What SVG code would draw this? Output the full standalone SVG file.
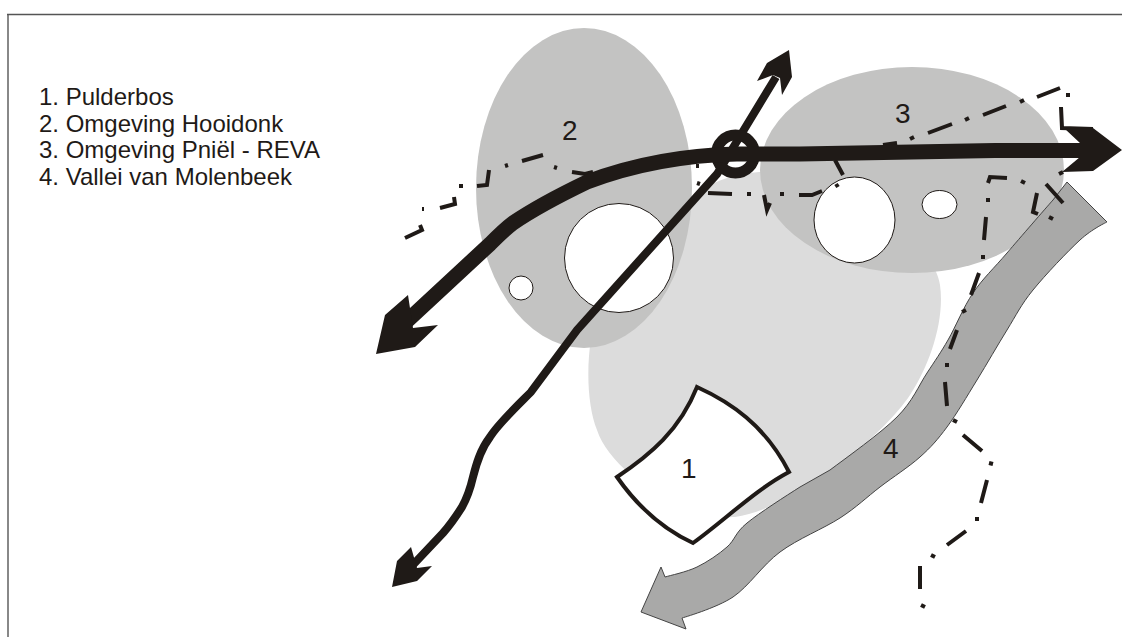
<svg xmlns="http://www.w3.org/2000/svg" width="1122" height="637" viewBox="0 0 1122 637">
<style>
.lbl{font-family:"Liberation Sans",Arial,sans-serif;fill:#1f1a17}
.list{font-size:24px}
.num{font-size:28px}
.hole{fill:#fff;stroke:#1f1a17;stroke-width:1}
.zone{fill:#c3c3c2}
.dash{fill:none;stroke:#1f1a17;stroke-width:4}
.ink{fill:#1f1a17}
.road{fill:none;stroke:#1f1a17}
</style>
<rect width="1122" height="637" fill="#fff"/>
<path d="M8 637V14" fill="none" stroke="#888" stroke-width="2"/>
<path d="M7 14.500H1122" fill="none" stroke="#555" stroke-width="1.500"/>
<g id="legend">
<text class="lbl list" x="39" y="105">1. Pulderbos</text>
<text class="lbl list" x="39" y="132">2. Omgeving Hooidonk</text>
<text class="lbl list" x="39" y="158">3. Omgeving Pniël - REVA</text>
<text class="lbl list" x="39" y="185">4. Vallei van Molenbeek</text>
</g>
<g id="area-base">
<path d="M600 300C585 345 585 400 597 430C610 470 680 520 735 517C790 510 880 440 910 395C930 365 945 320 940 285C935 250 880 200 800 175C770 168 720 170 690 200L620 290Z" fill="#dcdcdc"/>
</g>
<g id="node-2">
<ellipse class="zone" cx="584" cy="188" rx="108" ry="160"/>
<circle class="hole" cx="619" cy="258" r="54.500"/>
<circle class="hole" cx="521" cy="288" r="12"/>
<text class="lbl num" x="562" y="140">2</text>
</g>
<g id="node-3">
<ellipse class="zone" cx="912" cy="170" rx="152" ry="103"/>
<ellipse class="hole" cx="854.500" cy="220" rx="40.500" ry="43"/>
<ellipse class="hole" cx="939.500" cy="204.500" rx="17.500" ry="14"/>
<text class="lbl num" x="895" y="123">3</text>
</g>
<g id="node-4">
<path d="M1067 182L1107 222C1107 222 1092.300 228.700 1080 240C1067.700 251.300 1045.200 275 1033 290C1020.800 305 1016.300 315 1007 330C997.700 345 987 363.800 977 380C967 396.200 956.500 414.200 947 427C937.500 439.800 931.200 447 920 457C908.800 467 893.300 476.800 880 487C866.700 497.200 856.700 507.200 840 518C823.300 528.800 797.800 538.800 780 552C762.200 565.200 749.300 586 733 597C716.700 608 682 618 682 618L686 629L641 612L661 567L665 577C670 575.500 686.700 572 697 567C707.300 562 718.700 554.300 727 547C735.300 539.700 734.800 533 747 523C759.200 513 786.200 495.800 800 487C810 481 820 476 830 470C846 458 881 433 897 417C913 401 918.500 385.800 927 373C935.500 360 940.300 353.300 948 340C955.700 326.700 963.200 307.500 973 293C982.800 278.500 993.700 268.500 1007 253C1020.300 237.500 1045 209 1053 200Z" fill="#a9a9a8" stroke="#444" stroke-width="1"/>
<text class="lbl num" x="883" y="458">4</text>
</g>
<g id="node-1">
<path d="M697 387C730 402 765 425 789 472C755 490 725 520 693 543C665 530 640 510 617 477C650 455 680 430 697 387Z" fill="#fff" stroke="#1f1a17" stroke-width="4"/>
<text class="lbl num" x="681" y="478">1</text>
</g>
<g id="connectors">
<path class="dash" d="M405 238L422 230L420 225M422 209L424 209M440 208L455 204L454 197M459 186H463M477 186L487 185L489 170M505 166L508 165M522 161L543 155M554 167L557 168M572 172L585 174L593 172M696 166H699M697 183L700 184M708 193L732 194M747 194H751M764 195L767 210L770 203M780 194H784M799 195L812 195L822 191M836 184L838 187M835 160L843 175M883 145L897 143M910 139L914 137M928 133L952 124M965 120L969 118M983 115L1006 106M1020 102L1024 100M1037 97L1060 88M1066 95H1070M1061 107L1062 128L1093 129M1059 174L1063 172M1046 184L1063 203M1037 193L1033 212L1038 214M1049 217L1053 219M1021 181L1025 183M988 183L990 177L1007 178M986 200H990M986 217L984 240M981 257H985M979 273L971 295M962 312L966 310M957 330L950 349M945 365H949M945 382L947 406M953 420L957 422M963 435L982 451M989 463L993 464M987 480L981 503M975 519H979M966 531L947 545M931 555L935 557M920 566L920 589M921 605L925 607"/>
<path class="road" stroke-width="8" d="M776 77L717 174L577 330L531 392C515 408 498 424 490 437C480 450 476 465 473 477C470 490 467 498 462 507C455 518 450 525 443 533L410 568"/>
<polygon class="ink" points="789,50 792,77 782,95 780,78 773,75 757,81 767,63"/>
<polygon class="ink" points="392,587 417,581 432,566 417,568 411,547 397,561"/>
<circle cx="735.500" cy="154" r="19" fill="none" stroke="#1f1a17" stroke-width="11"/>
<path class="road" stroke-width="15" d="M1080 150.500H995L800 154H737C690 155 640 162 587 182C560 195 535 208 513 223C505 229 497 237 490 244L407 321"/>
<polygon class="ink" points="1122,150 1093,128 1065,129 1080,143 1080,157 1062,172 1093,171"/>
<polygon class="ink" points="376,354 415,347 438,325 413,328 408,295 385,315"/>
</g>
</svg>
